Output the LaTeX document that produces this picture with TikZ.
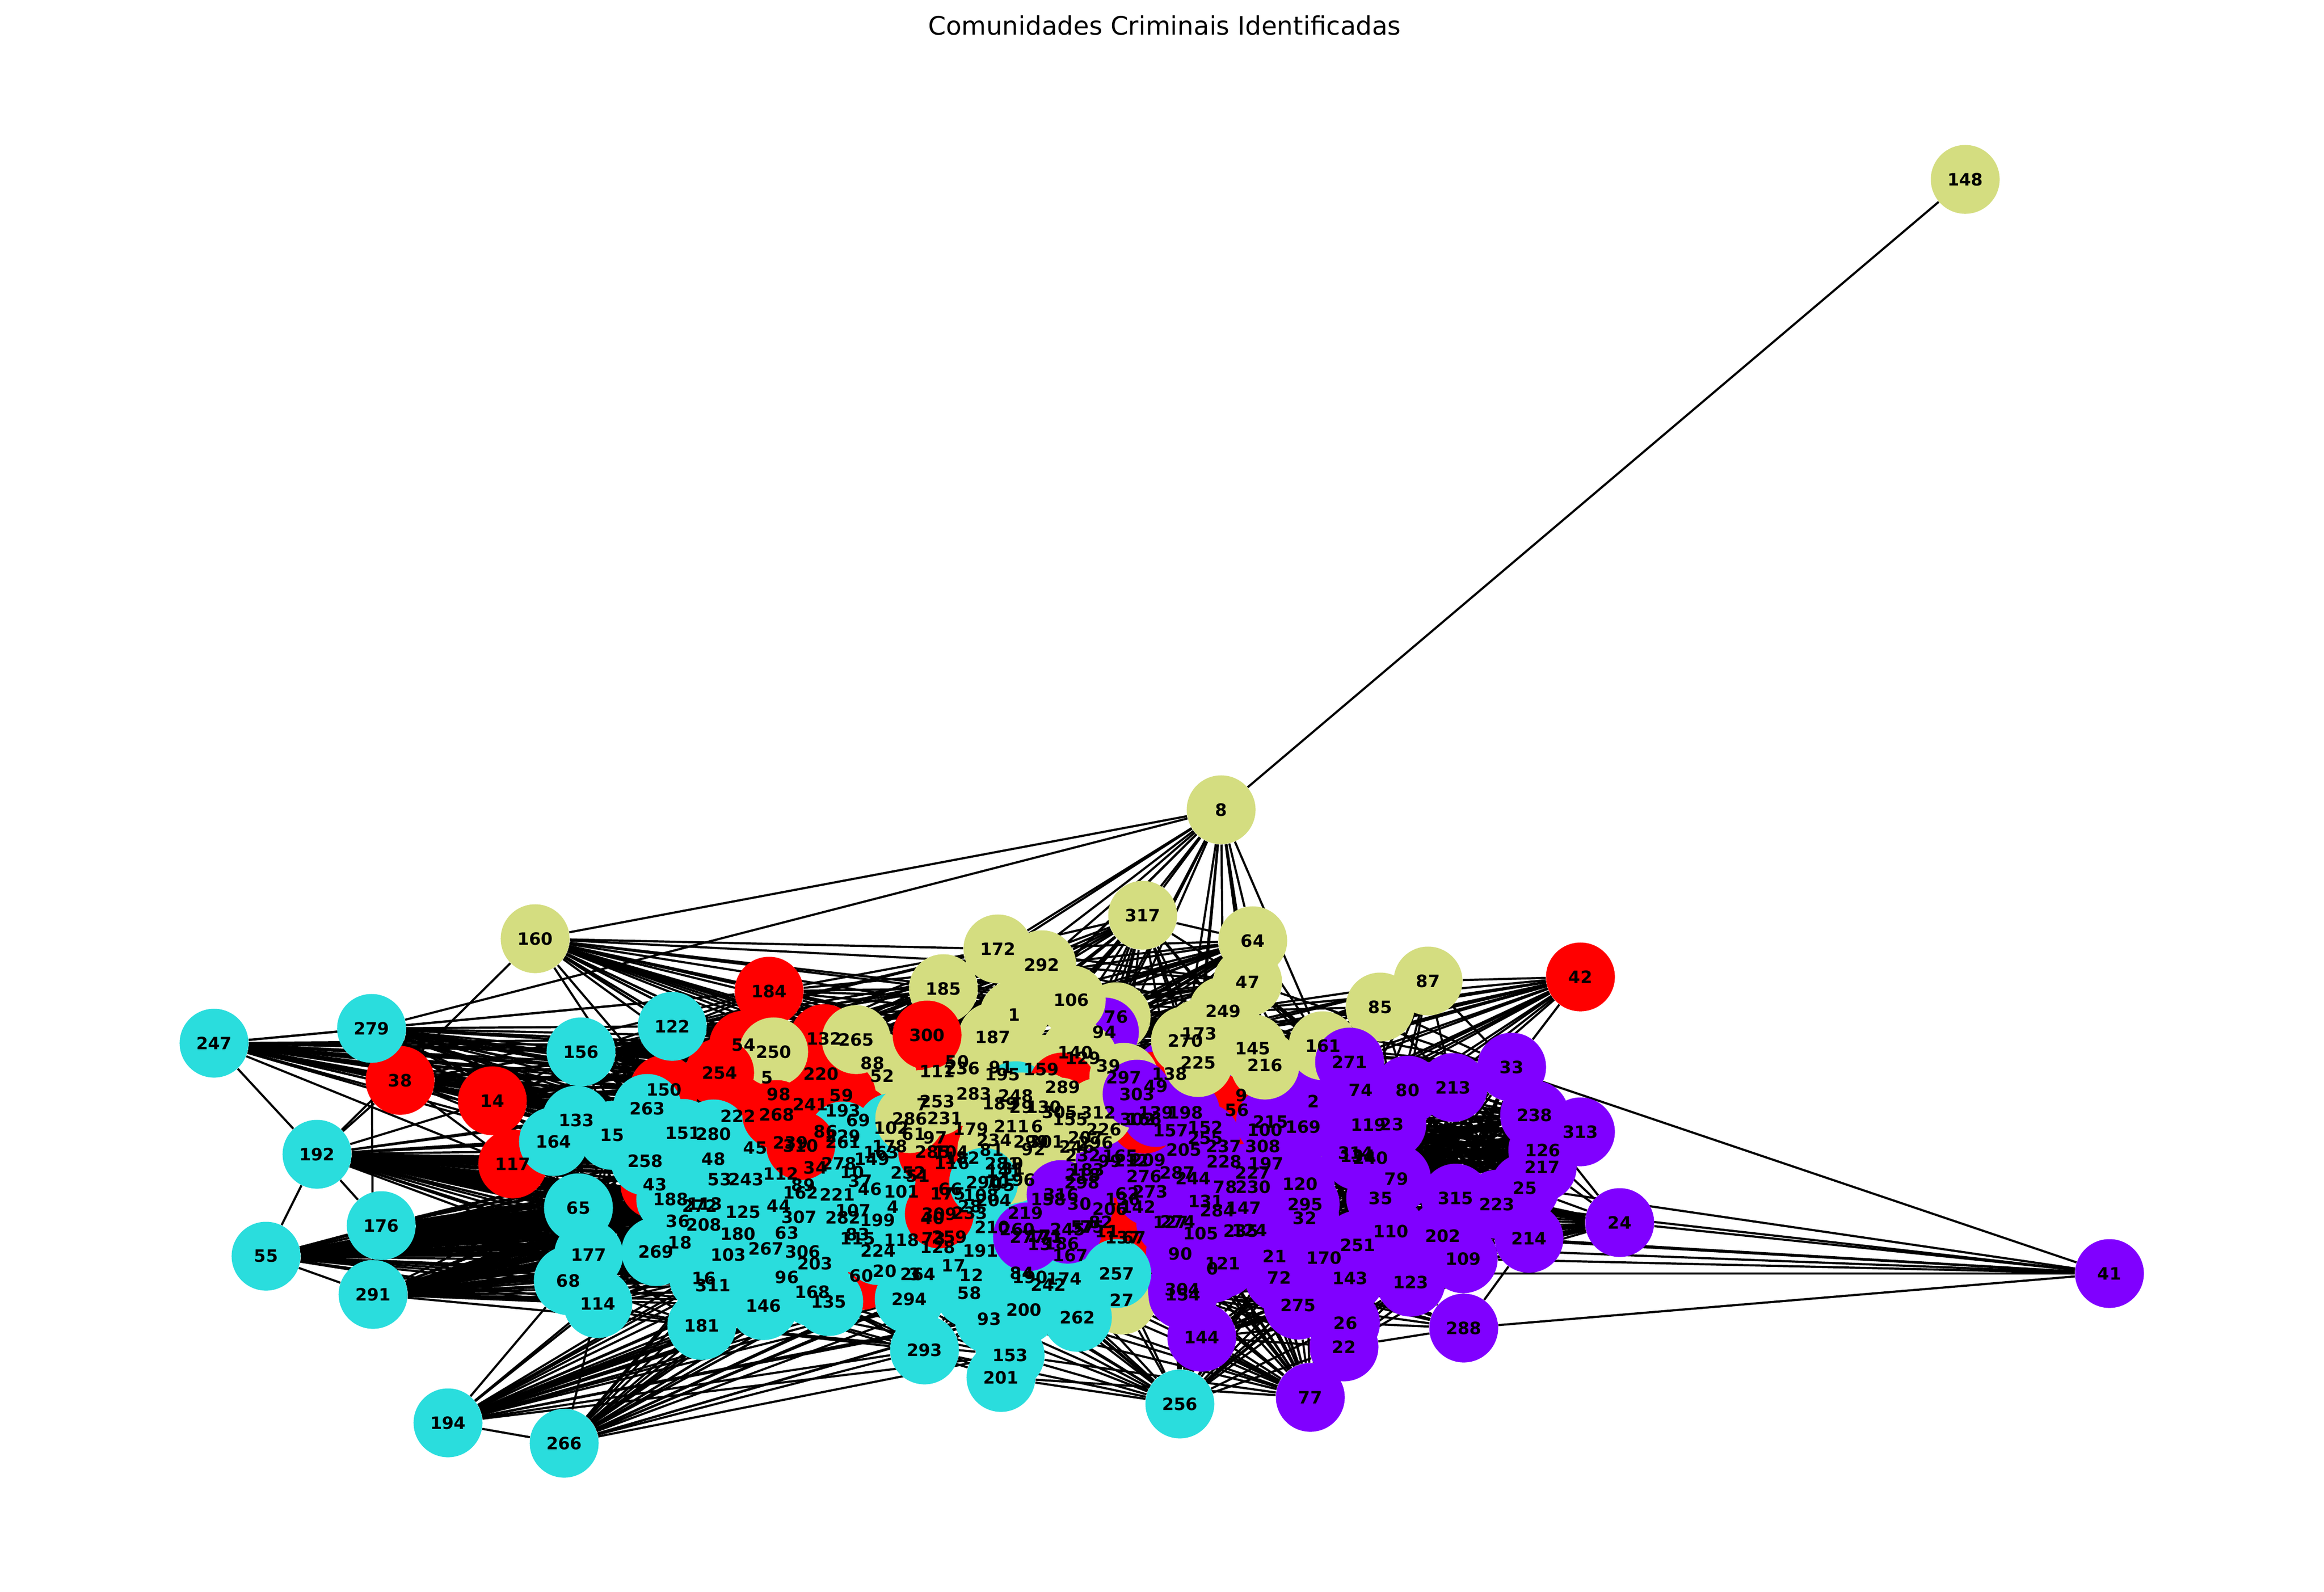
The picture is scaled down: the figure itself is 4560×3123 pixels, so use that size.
\documentclass[tikz,border=0pt]{standalone}
\usepackage{fontspec}
\setmainfont{DejaVu Sans}
\definecolor{roxo}{HTML}{8000FF}
\definecolor{ciano}{HTML}{2ADDDD}
\definecolor{oliva}{HTML}{D4DD80}
\definecolor{vermelho}{HTML}{FF0000}
\pgfdeclarelayer{arestas}
\pgfsetlayers{arestas,main}
\tikzstyle{vertex} = [circle,minimum size=1.35cm,inner sep=0pt]
\tikzstyle{rotulo} = [inner sep=0pt,font=\fontsize{9.5}{10}\selectfont\bfseries]
\tikzstyle{aresta} = [line width=0.042cm,black]
\newcommand{\vertices}[2]{\foreach \id/\px/\py in {#2} \node[vertex,fill=#1] (n\id) at (\px,\py) {};}
\newcommand{\arestas}[2]{\foreach \a in {#1} \foreach \b in {#2} \draw[aresta] (n\a) -- (n\b);}
\newcommand{\leque}[2]{\foreach \a in {#1} \foreach \b in #2 \draw[aresta] (n\a) -- (n\b);}
\newcommand{\centro}{43,188,36,272,113,208,125,18,269,180,103,267,44,63,307,306,243,53,162,89,221,282,107,48,258,45,112,278,34,10,37,46,101,199,83,115,118,224,203,96,16,311}
\newcommand{\norte}{150,254,263,133,15,151,280,222,268,98,241,220,59,54,184,132,250,5,258,193}
\newcommand{\topo}{185,172,292,1,187,106,300,265,88,52,111,50,236}
\newcommand{\copa}{172,292,106,1,187,76,94,185,265,300,88,52,140,129,39,159,91,195}
\newcommand{\chao}{181,146,135,168,96,203,60,294,311,16,103,306,267,58,12,17,20,191,224,200,93,153}
\newcommand{\fundo}{144,304,154,0,121,90,105,21,72,170,143,275,26,22,235,124,32,131,284,147,274,127,251,110}
\begin{document}
\begin{tikzpicture}[x=0.01cm,y=-0.01cm]
	\useasboundingbox (0,0) rectangle (4560,3123);
	% camadas de baixo para cima
	\vertices{vermelho}{111/1839/2102}
	\vertices{oliva}{8/2396/1589,148/3856/352,160/1050/1842,317/2242/1796,64/2458/1846,47/2448/1927,249/2400/1984,85/2708/1976,87/2802/1925,185/1851/1940,172/1958/1862,292/2044/1893,187/1948/2035,76/2190/1995,50/1878/2083,236/1888/2096,88/1712/2086,52/1731/2111,39/2175/2091,159/2043/2098,91/1964/2094,195/1967/2108,61/1793/2225,97/1835/2232,231/1854/2194,179/1905/2215,27/2201/2551}
	\vertices{roxo}{94/2167/2025}
	\vertices{oliva}{106/2102/1962,1/1990/1991,140/2110/2065,129/2125/2076}
	\vertices{ciano}{248/1993/2150,20/1736/2494}
	\vertices{vermelho}{184/1509/1945,54/1459/2051,132/1617/2038,220/1611/2107,5/1505/2115,59/1651/2149,241/1590/2167,98/1528/2147,193/1654/2179,69/1684/2198,86/1620/2220,150/1303/2138,43/1285/2324,60/1690/2503,239/1551/2242,222/1448/2190,14/966/2160,38/785/2120,117/1006/2284,289/2085/2133,300/1819/2031,42/3101/1917}
	\vertices{oliva}{250/1518/2064,265/1680/2040}
	\vertices{vermelho}{254/1412/2105}
	\vertices{roxo}{0/2379/2489,2/2577/2161,9/2436/2149,13/2040/2441,21/2501/2465,22/2637/2643,23/2731/2206,24/3178/2399,25/2992/2331,26/2640/2596,32/2560/2390,33/2966/2094,35/2709/2351,41/4139/2499,57/2125/2408,62/2212/2342,67/2225/2428,71/2063/2427,72/2510/2507,74/2670/2139,75/2143/2408,77/2571/2742,78/2404/2329,79/2740/2313,80/2762/2139,82/2160/2398,100/2482/2217,105/2356/2420,109/2871/2470,110/2729/2416,119/2685/2207,120/2551/2323,121/2399/2479,123/2768/2516,124/2452/2414,126/3027/2257,131/2366/2357,134/2664/2268,136/2203/2353,138/2295/2107,142/2233/2368,143/2649/2508,144/2358/2624,147/2440/2370,152/2365/2212,154/2321/2541,157/2297/2219,158/2057/2353,169/2557/2211,170/2598/2468,171/2050/2425,183/2133/2295,186/2083/2440,197/2484/2283,202/2831/2425,205/2323/2256,206/2178/2372,213/2851/2134,214/3000/2430,217/3026/2290,218/2125/2305,223/2937/2363,227/2458/2301,228/2402/2279,230/2459/2329,235/2435/2415,237/2401/2249,238/3011/2188,240/2689/2272,244/2341/2312,251/2664/2443,274/2311/2397,275/2547/2561,276/2245/2308,284/2389/2375,287/2310/2301,288/2872/2606,295/2561/2363,298/2123/2320,302/2232/2196,304/2320/2530,308/2478/2249,313/3101/2221,314/2660/2262,315/2856/2351}
	\vertices{ciano}{3/1795/2500,4/1752/2368,10/1672/2300,12/1906/2502,15/1201/2228,16/1381/2508,17/1871/2483,18/1334/2438,28/1903/2367,34/1600/2291,36/1330/2396,37/1688/2317,40/1830/2390,44/1528/2366,45/1482/2253,46/1707/2333,48/1400/2274,51/1801/2308,53/1412/2314,55/522/2465,58/1902/2537,63/1544/2419,65/1135/2370,68/1115/2513,70/1957/2320,73/1832/2430,83/1683/2422,84/2005/2498,89/1576/2325,93/1941/2588,95/1968/2325,96/1544/2506,101/1769/2338,102/1749/2213,103/1429/2462,107/1674/2375,108/1925/2345,112/1532/2303,113/1383/2362,114/1173/2558,115/1683/2431,118/1769/2433,122/1319/2014,125/1458/2378,128/1840/2447,133/1131/2198,135/1626/2554,146/1498/2562,149/1711/2274,151/1340/2224,153/1982/2659,156/1140/2064,162/1571/2340,163/1729/2261,164/1086/2240,167/2100/2463,168/1594/2535,174/2088/2509,176/748/2405,177/1155/2462,178/1746/2249,180/1448/2421,181/1377/2601,182/1888/2272,188/1316/2353,190/2021/2506,191/1924/2454,192/622/2265,194/879/2792,196/1997/2315,199/1722/2394,200/2009/2570,201/1964/2703,203/1599/2479,204/1950/2355,208/1381/2403,210/1947/2408,219/2012/2380,221/1643/2344,224/1723/2454,229/1654/2229,233/1903/2380,242/2057/2521,243/1464/2314,247/420/2047,252/1782/2301,256/2315/2755,258/1266/2278,259/1863/2427,260/1996/2412,261/1654/2241,263/1270/2175,264/1801/2500,266/1107/2832,267/1503/2450,269/1287/2456,272/1373/2366,278/1646/2283,279/729/2018,280/1400/2225,282/1654/2389,291/732/2540,293/1814/2649,294/1784/2549,306/1575/2456,307/1568/2388,311/1399/2522}
	\vertices{vermelho}{268/1524/2187,310/1571/2248,285/1830/2260,116/1868/2282,104/1866/2260,66/1865/2333,175/1860/2343,309/1843/2382,11/2172/2416,137/2203/2428,49/2268/2131,56/2427/2178}
	\vertices{oliva}{6/2035/2210,7/1810/2167,19/1985/2283,29/2004/2172,31/1988/2293,81/1946/2256,92/2028/2255,130/2048/2172,141/1970/2297,189/1962/2165,207/2130/2232,211/1985/2210,226/2166/2216,232/2125/2267,234/1951/2237,246/2113/2250,253/1839/2161,281/1967/2283,283/1911/2146,286/1785/2195,296/2150/2242,299/2023/2240,301/2053/2240}
	\vertices{ciano}{290/1930/2320}
	\vertices{roxo}{30/2118/2362,90/2316/2460,99/2178/2278,127/2297/2398,165/2198/2268,209/2253/2276,212/2220/2277,245/2095/2412,273/2257/2338,277/2016/2427,316/2082/2344}
	\vertices{vermelho}{166/2245/2196}
	\vertices{roxo}{139/2268/2183,198/2326/2183,215/2493/2201,255/2365/2233}
	\vertices{oliva}{145/2458/2058,155/2100/2197,161/2596/2052,173/2353/2028,216/2482/2090,225/2351/2085,270/2326/2042,297/2205/2114,305/2079/2182,312/2155/2183}
	\vertices{roxo}{271/2648/2084,303/2231/2147}
	\vertices{ciano}{257/2191/2499,262/2114/2585}
	% numeros por cima de tudo
	\foreach \id in {0,...,317} \node[rotulo] (t\id) at (n\id) {\id};
	\node[font=\fontsize{14.2}{16}\selectfont] (titulo) at (2285,50) {Comunidades Criminais Identificadas};
	\begin{pgfonlayer}{arestas}
	\arestas{8}{148,160,279,172,292,1,187,185,106,76,94,317,270,173,225,249,47,64,145,161,300,39}
	\arestas{160}{192,122,150,263,254,54,184,132,250,5,98,220,59,241}
	\leque{160,122,156,184,54,254}{\topo}
	\leque{247,279,38,14,156}{\norte}
	\arestas{279}{291,164,14,122}
	\arestas{247}{279,38,14,117,164,156,192,48}
	\arestas{38}{14,156,164,117,192}
	\arestas{14}{156,122,117}
	\leque{176,55,291,192}{\centro}
	\arestas{192}{14,117,164,133,15,263,151,280,65,177,55,176}
	\arestas{176}{65,177,68}
	\arestas{55}{176,291,65,177,68,114,146,181}
	\arestas{291}{68,177,114,146,168,135,181}
	\arestas{65}{43,258,188,36,269,18,272,113,208,48,53,125}
	\arestas{117}{65,258,43,188,36,269,164,177,68}
	\arestas{133,164,15}{65,177,68,43,188,269,114}
	\arestas{114,68,177}{269,16,311,181,103,18,36,188,43,208,180,267}
	\arestas{185,172}{1,187,292,106,300,76,94}
	\arestas{132,265,88,52,300}{172,292,185,1,187,106}
	\leque{317,64,47}{\copa}
	\arestas{317}{270,173,249,47,64,225,145,216,297,138}
	\arestas{64}{270,173,225,249,145,216,161,297}
	\arestas{47}{270,173,225,297,161,271,74,2,216}
	\arestas{249,173,270}{76,94,106,129,39,140,292,1,187,297}
	\arestas{76}{270,173,225,145,138,216}
	\arestas{42,85,87}{85,87,161,271,74,80,213,33,2,249,145,216,173,225,270,9,23,119,100,215,169,138}
	\arestas{249,173,270,225,145,216}{161,271,74,2,80,213,33}
	\arestas{213,80,33,238,313,126,217,25,74,271,2,119}{79,35,240,23,315,223,134,314,110,202,251}
	\arestas{238,313,126,217,25,223,315}{74,80,213,23,119,2,169,79,240,134,314,35,120,295,197,227,308,230,100,215,32}
	\arestas{213,80,33}{315,223,25,217,35,79,110,202,109,214,123}
	\arestas{33,213,238,80}{240,79,315,223,25,217,126,313,238,23,119}
	\arestas{23,79,240}{238,313,126,33,213,25,217}
	\arestas{2,169,119,74,23,240}{251,170,110,143,21,275,123}
	\arestas{24}{214,25,223,202,315,110,109,79,35,251,170,143,123,217,126,238,41,32,295,120,197,230,227,308,21,72}
	\arestas{214,25,223}{120,295,32,21,72,170,143,275,197,230}
	\arestas{41}{47,25,223,202,110,251,109,257,288}
	\arestas{288}{26,22,275,72,21,121,0,143,214,123,109}
	\arestas{26,22,275,143}{123,109,202,214,251}
	\leque{77,256}{\fundo}
	\arestas{77}{262,27,257,153,201,200,93,174,242}
	\arestas{256}{27,262,257,153,201,293,200,93,294,174,242,190,84,12,58,191,17}
	\arestas{144,304,154,121,0}{275,26,72,170,143,21,22,251,123,109,202}
	\leque{194,266}{\chao}
	\arestas{194}{266,114,68,269}
	\arestas{266}{114}
	\arestas{293}{146,135,181,168,93,200,58,12,17,294,60,194,266}
	\arestas{201}{146,135}
	\arestas{153}{146,135,181,294}
	\arestas{294}{181,146,135,168}
	\end{pgfonlayer}
\end{tikzpicture}
\end{document}
